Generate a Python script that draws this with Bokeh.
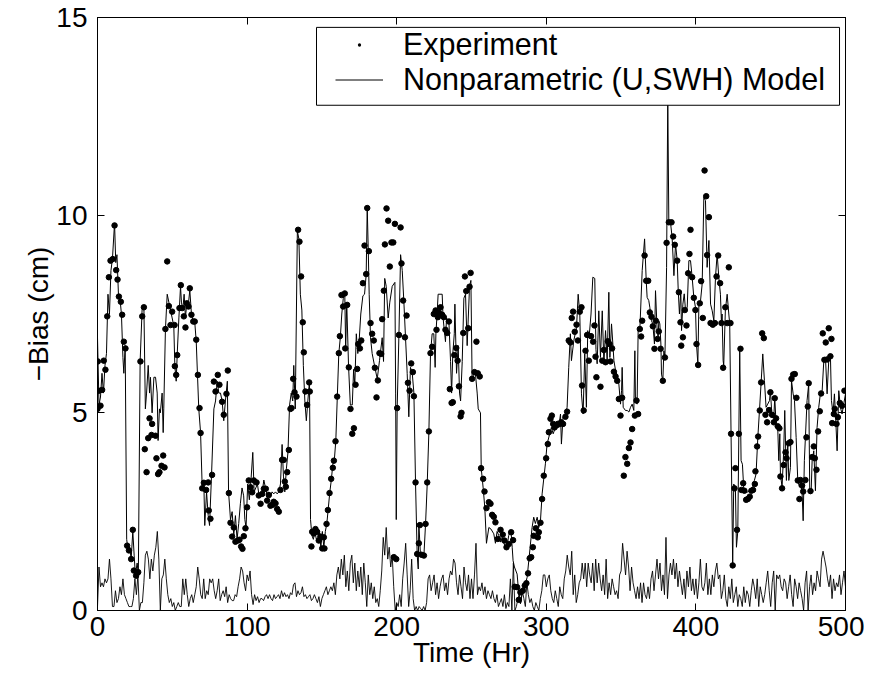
from bokeh.plotting import figure
from bokeh.models import (LinearAxis, Range1d, FixedTicker, Legend, LegendItem,
                          BoxAnnotation, CustomJSTickFormatter)
from bokeh.embed import file_html
from bokeh.resources import INLINE

FONT = "Liberation Sans"

x_ticks = [0, 100, 200, 300, 400, 500]
y_ticks = [0, 5, 10, 15]

# Experiment: (hour, -bias cm)
experiment = [
    (0.0, 5.10), (0.2, 6.30), (0.9, 5.56), (2.0, 5.18), (3.1, 5.58), (4.2, 6.32), (5.3, 6.09), (6.5, 7.44),
    (7.6, 8.43), (8.7, 8.85), (10.2, 8.89), (11.4, 9.74), (12.5, 8.61), (13.4, 8.37), (14.3, 7.94), (15.6, 7.81),
    (16.5, 7.48), (17.6, 6.80), (18.7, 6.63), (19.8, 1.64), (21.0, 1.52), (22.5, 1.30), (23.6, 2.04), (24.3, 1.01),
    (25.8, 0.88), (27.2, 0.97), (28.7, 6.30), (29.9, 7.44), (31.0, 7.67), (31.6, 4.08), (32.8, 3.50), (33.9, 4.36),
    (34.8, 4.86), (36.1, 4.44), (36.5, 4.72), (38.8, 4.42), (39.4, 3.85), (40.5, 3.45), (41.4, 3.50), (42.8, 3.66),
    (43.9, 3.92), (44.8, 3.62), (45.4, 7.12), (46.6, 8.83), (47.7, 7.70), (48.8, 7.22), (49.9, 7.56), (51.5, 7.22),
    (51.7, 6.18), (52.6, 5.96), (53.3, 6.46), (54.8, 7.65), (55.7, 8.23), (56.6, 7.65), (57.7, 7.44), (58.8, 7.16),
    (59.7, 7.77), (60.8, 7.69), (61.7, 8.15), (62.8, 7.48), (64.0, 7.31), (65.0, 7.31), (66.0, 6.85), (67.1, 5.96),
    (68.2, 5.12), (68.9, 4.49), (70.0, 3.09), (71.1, 3.23), (72.6, 3.05), (74.0, 3.24), (74.4, 2.53), (75.5, 2.32),
    (76.6, 3.43), (77.8, 5.79), (78.9, 5.54), (80.4, 5.96), (81.5, 5.71),
    (83.3, 5.28), (84.4, 4.95), (86.2, 5.48), (87.1, 6.07), (87.8, 2.97), (88.9, 2.22), (90.0, 1.87), (91.1, 2.10),
    (92.2, 1.74), (93.8, 1.77), (94.9, 1.79), (96.0, 1.62), (96.9, 1.56), (97.8, 1.88), (98.9, 2.08), (100.0, 2.61),
    (101.1, 3.29), (102.3, 3.12), (103.4, 2.99), (104.5, 3.29), (106.3, 3.24), (107.8, 2.91), (109.0, 2.70),
    (110.1, 2.95), (111.2, 3.08), (112.5, 3.08), (113.4, 2.78), (114.5, 2.92), (115.6, 2.65), (116.7, 2.67),
    (117.8, 2.75), (119.0, 2.71), (120.1, 2.57), (121.2, 2.50), (122.3, 3.05), (123.4, 3.81), (124.5, 3.81),
    (125.2, 3.26), (125.9, 3.13), (126.8, 3.50), (127.9, 4.06), (129.0, 5.10), (129.7, 5.12), (130.8, 5.86),
    (131.7, 5.52), (133.0, 5.41), (134.1, 9.63), (135.0, 9.33), (136.1, 8.45), (137.2, 7.29), (137.9, 6.53),
    (139.0, 5.54), (140.1, 5.20), (141.5, 5.77), (141.9, 5.54), (143.0, 1.62), (143.5, 1.99), (144.6, 1.95),
    (145.7, 2.06), (146.8, 1.99), (147.9, 1.77), (149.0, 1.87), (150.2, 1.57), (151.3, 1.85), (151.7, 1.57),
    (153.1, 2.19), (154.0, 2.54), (155.1, 2.97), (156.2, 3.33), (157.3, 3.61), (158.0, 3.79), (159.1, 4.28),
    (160.2, 5.41), (161.3, 6.51), (162.0, 6.94), (163.1, 7.98), (164.2, 7.69), (165.3, 8.02), (165.6, 6.63),
    (166.9, 7.73), (168.0, 6.15), (169.1, 5.10), (170.3, 4.47), (171.4, 4.61), (172.5, 5.71), (173.6, 6.11),
    (174.3, 6.74), (175.4, 6.63), (176.3, 6.83), (177.4, 8.28), (178.5, 9.23), (179.6, 8.51), (180.3, 10.18),
    (181.4, 9.09), (182.5, 7.27), (183.6, 7.00), (184.7, 6.83), (185.4, 6.14), (186.5, 5.39), (187.4, 5.82),
    (188.5, 6.51), (189.6, 6.49), (190.3, 7.37), (191.4, 8.09), (192.1, 9.26), (193.2, 10.17), (194.3, 9.86),
    (195.4, 8.70), (196.5, 9.31), (197.7, 9.31), (198.8, 9.78), (198.1, 1.35), (199.7, 1.30), (200.3, 5.12),
    (201.5, 6.97), (202.6, 9.69), (203.2, 8.78), (204.3, 7.84), (205.5, 6.91), (206.6, 7.46), (207.5, 5.76),
    (208.6, 5.56), (209.7, 6.25), (210.8, 6.03), (211.5, 5.42), (212.6, 3.24), (213.7, 1.43), (214.8, 1.70),
    (215.5, 2.16), (216.6, 1.41), (218.2, 1.39), (219.3, 2.19), (220.4, 3.24), (221.5, 4.53), (222.6, 6.51),
    (223.7, 6.67), (224.8, 7.50), (226.0, 7.59), (226.6, 7.10), (227.5, 7.42), (228.2, 7.54), (229.3, 7.67),
    (230.4, 7.48), (231.5, 7.42), (232.6, 7.10), (233.8, 7.02), (234.9, 7.31), (235.5, 5.60), (236.7, 5.25),
    (237.5, 5.27), (238.5, 6.46), (239.8, 6.64), (240.7, 6.32), (241.6, 5.67), (242.7, 4.91), (243.3, 5.00),
    (244.5, 7.02), (245.6, 8.45), (246.5, 8.08), (247.8, 7.14), (248.7, 8.19), (249.4, 8.54),
    (250.4, 5.86), (252.0, 6.03), (253.3, 6.80), (254.2, 6.00), (255.5, 5.92), (256.4, 3.60), (257.8, 3.33),
    (258.7, 3.01), (260.0, 2.59), (261.6, 2.74), (262.7, 2.70), (263.8, 2.42), (264.9, 2.37), (266.0, 2.23),
    (267.6, 1.81), (269.4, 2.04), (270.9, 1.92), (272.0, 1.77), (273.4, 1.60), (274.9, 1.68), (276.5, 1.98),
    (277.8, 1.78), (278.9, 0.60), (280.5, 0.59), (281.6, 0.27), (282.7, 0.46), (284.3, 0.50), (285.6, 0.63),
    (286.7, 0.69), (287.8, 0.94), (288.9, 1.32), (289.9, 1.35), (291.0, 1.60), (291.6, 1.89), (293.0, 2.08),
    (294.3, 1.85), (295.0, 1.98), (296.1, 2.22), (297.2, 2.82), (298.3, 3.41), (299.9, 3.85), (301.0, 4.21),
    (301.7, 4.51), (302.8, 4.85), (303.7, 4.93), (304.6, 4.72), (305.5, 4.63), (306.6, 4.68), (307.7, 4.72),
    (308.8, 4.72), (309.9, 4.76), (311.2, 4.72), (312.8, 4.90), (313.9, 5.03), (315.0, 6.83), (316.1, 6.78),
    (317.0, 7.40), (317.9, 7.56), (319.0, 7.05), (320.2, 7.23), (321.1, 6.83), (322.4, 7.56), (323.5, 7.67),
    (323.9, 5.69), (325.0, 5.06), (326.2, 6.57), (327.3, 6.97), (328.4, 6.32), (329.9, 6.94), (331.3, 6.80),
    (332.2, 7.21), (332.9, 6.42), (333.5, 5.90),
    (336.2, 5.66), (337.4, 6.32), (338.5, 6.59), (339.6, 6.28), (341.1, 6.81), (342.3, 6.74), (342.9, 6.30),
    (344.0, 6.63), (345.2, 6.04), (346.3, 5.92), (347.4, 5.81), (348.5, 5.35), (349.6, 4.93), (350.7, 5.38),
    (351.8, 3.41), (352.9, 3.88), (354.1, 3.71), (355.2, 4.11), (356.3, 4.25), (357.4, 4.59), (359.2, 4.93),
    (360.3, 5.31), (361.4, 4.97), (362.5, 7.12), (363.4, 6.93), (364.1, 7.33), (365.7, 8.98), (366.8, 8.34),
    (368.1, 8.34), (369.2, 7.54), (370.3, 7.43), (371.2, 7.19), (372.3, 6.62), (373.2, 7.33), (374.4, 6.87),
    (375.2, 7.06), (376.4, 6.62), (377.9, 5.81), (379.3, 6.40), (380.4, 9.30), (381.9, 9.82), (383.7, 9.82),
    (384.8, 9.46), (385.9, 9.25), (387.5, 8.85), (388.6, 8.05), (389.7, 7.29), (390.2, 6.70), (391.3, 6.91),
    (392.6, 7.60), (393.7, 7.21), (394.8, 8.53), (395.7, 9.02), (396.4, 9.63), (397.5, 8.43), (398.6, 7.91),
    (399.7, 7.60), (400.4, 6.74), (401.5, 6.21), (402.6, 7.77), (403.5, 8.33), (404.6, 7.40), (405.8, 11.13),
    (406.9, 10.48), (407.5, 8.99), (408.7, 9.95), (409.8, 7.27), (411.3, 7.23), (412.7, 7.27), (413.8, 8.45),
    (414.9, 8.98), (416.2, 8.28), (417.1, 7.27), (418.2, 6.14),
    (419.7, 7.67), (420.9, 7.27), (422.0, 8.68), (423.1, 7.27), (423.5, 4.47), (424.6, 1.14), (425.8, 3.09),
    (426.4, 3.60), (427.5, 2.04), (428.7, 4.47), (429.8, 6.62), (430.4, 3.05), (431.6, 3.22), (432.4, 3.03),
    (433.6, 2.80), (434.7, 2.82), (436.0, 2.88), (437.1, 3.03), (438.2, 3.05), (439.4, 3.20), (439.8, 3.52),
    (440.9, 4.15), (441.6, 4.40), (442.7, 5.06), (443.6, 5.77), (444.3, 7.01), (445.4, 6.89), (446.5, 4.95),
    (447.6, 4.76), (448.9, 5.07), (449.8, 5.52), (450.9, 4.95), (452.1, 4.76), (452.7, 5.37), (453.6, 4.86),
    (454.7, 4.66), (455.8, 4.61), (456.5, 3.39), (457.6, 3.09), (458.7, 3.68), (459.9, 4.00), (460.6, 3.85),
    (462.1, 4.23), (463.2, 4.26), (463.9, 5.86), (465.0, 5.97), (466.1, 5.98), (467.2, 5.38), (468.1, 3.29),
    (469.2, 2.82), (469.9, 3.30), (471.0, 3.16), (471.7, 3.01), (473.2, 3.30), (473.9, 4.38), (474.8, 5.16),
    (475.4, 5.75), (476.6, 3.02), (477.7, 3.88), (478.8, 4.15), (479.5, 3.85), (480.6, 3.56), (481.7, 4.53),
    (482.8, 5.04), (483.7, 5.49), (484.8, 7.01), (485.9, 6.34), (486.8, 6.78), (487.7, 6.35), (488.8, 7.14),
    (489.9, 6.43), (490.6, 6.87), (491.1, 4.74), (492.2, 4.97), (492.8, 5.10), (494.0, 4.72), (494.9, 4.89),
    (496.2, 5.25), (497.7, 5.18), (499.3, 5.56),
]

# Nonparametric (U,SWH) model: (hour, -bias cm)
model = [
    (0.0, 6.9), (1.0, 5.2), (2.0, 5.4), (3.0, 6.0), (4.0, 5.5), (5.0, 6.2), (6.0, 6.5), (7.0, 8.0), (8.0, 7.5),
    (9.0, 8.6), (10.0, 8.9), (11.4, 9.8), (12.2, 8.8), (13.0, 9.0), (14.0, 8.0), (15.0, 7.9), (16.0, 7.5),
    (17.0, 6.4), (17.6, 6.0), (18.5, 6.7), (19.5, 1.8), (20.5, 1.5), (21.5, 1.6), (22.5, 1.3), (23.6, 2.0),
    (24.5, 1.4), (25.3, 0.9), (26.5, 1.2), (27.3, 0.9), (28.5, 6.3), (29.8, 7.6), (31.0, 7.7), (32.0, 5.1),
    (32.8, 5.5), (33.9, 6.2), (34.8, 5.5), (35.4, 5.9), (36.5, 5.0), (37.7, 5.9), (38.8, 5.9), (39.9, 5.5),
    (40.5, 4.3), (41.4, 5.1), (42.0, 5.0), (43.2, 5.5), (43.9, 4.5), (44.3, 5.1), (45.4, 7.1), (46.6, 8.0),
    (47.7, 7.8), (48.8, 7.6), (49.9, 7.4), (51.0, 7.2), (51.7, 6.2), (52.6, 5.8), (53.3, 6.5), (54.4, 7.4),
    (55.5, 8.2), (56.1, 7.8), (57.0, 7.6), (57.9, 8.0), (58.8, 7.4), (59.7, 7.8), (60.6, 7.7), (61.7, 8.1),
    (62.8, 7.5), (64.0, 7.3), (65.0, 7.3), (66.0, 6.8), (66.8, 6.0), (67.7, 5.1), (68.9, 4.5), (70.0, 3.1),
    (71.1, 3.2), (71.7, 2.15), (72.9, 3.0), (74.0, 2.4), (74.9, 2.15), (76.2, 3.4), (77.8, 5.1), (78.9, 5.3),
    (80.0, 5.8), (81.1, 5.5), (82.2, 5.5), (83.3, 5.3), (84.4, 4.8), (85.5, 5.3), (86.8, 5.8), (87.6, 3.0),
    (88.9, 2.3), (90.0, 2.5), (91.1, 1.9), (92.2, 2.4), (93.3, 1.8), (94.4, 2.2), (95.5, 2.7), (96.6, 3.1),
    (97.7, 2.9), (98.5, 2.3), (99.3, 2.1), (100.4, 3.2), (101.5, 2.8), (102.6, 3.3), (103.8, 4.0), (104.7, 3.0),
    (105.8, 3.1), (106.9, 3.2), (108.0, 2.9), (109.0, 2.9), (110.1, 3.0), (111.2, 3.3), (112.3, 3.1),
    (113.4, 2.9), (114.5, 3.0), (115.6, 2.9), (116.7, 3.0), (117.8, 2.95), (119.0, 3.0), (120.1, 2.95),
    (121.2, 3.0), (122.3, 3.2), (123.4, 4.2), (124.3, 3.4), (125.2, 3.0), (126.3, 3.6), (127.3, 4.0),
    (128.4, 5.2), (129.5, 5.5), (130.5, 5.3), (131.2, 6.2), (132.2, 5.1), (133.6, 9.6), (134.6, 9.4),
    (135.6, 8.0), (136.6, 7.6), (137.6, 6.2), (138.6, 5.3), (139.6, 4.8), (140.6, 5.3), (141.7, 5.8),
    (142.4, 2.3), (143.3, 1.9), (144.3, 1.8), (145.3, 2.0), (146.3, 1.8), (147.3, 1.8), (148.3, 2.0),
    (149.3, 1.6), (150.3, 2.0), (151.3, 1.6), (152.3, 2.0), (153.3, 2.2), (154.3, 2.6), (155.3, 3.0),
    (156.3, 3.3), (157.3, 3.7), (158.3, 3.8), (159.3, 4.3), (160.3, 5.4), (161.3, 6.5), (162.3, 6.9),
    (163.3, 7.5), (164.3, 7.9), (165.3, 8.0), (165.9, 6.6), (166.6, 7.8), (167.8, 6.2), (169.0, 5.2),
    (170.3, 5.2), (171.2, 6.1), (172.0, 5.7), (173.0, 7.0), (174.0, 6.5), (174.7, 6.7), (176.0, 7.5),
    (177.4, 7.96), (178.5, 8.0), (179.6, 8.5), (180.3, 10.2), (181.0, 9.1), (181.6, 8.0), (182.5, 6.9),
    (183.6, 6.5), (185.4, 6.15), (187.0, 5.86), (188.5, 6.32), (190.3, 6.9), (191.2, 6.3), (192.0, 8.4),
    (193.0, 8.2), (194.3, 7.4), (195.4, 7.8), (197.0, 8.2), (198.8, 8.3), (199.3, 5.5), (199.7, 2.3),
    (200.3, 5.1), (201.5, 7.0), (202.6, 9.0), (203.7, 8.6), (204.8, 7.8), (205.9, 6.9), (207.0, 6.0),
    (208.1, 4.9), (209.2, 6.15), (210.4, 6.0), (211.5, 5.5), (212.6, 3.2), (213.7, 1.4), (214.4, 1.05),
    (214.8, 2.2), (215.9, 1.4), (218.2, 1.4), (219.3, 2.2), (220.4, 3.2), (221.5, 4.5), (222.6, 6.5),
    (223.7, 7.0), (224.8, 7.0), (225.7, 6.15), (226.2, 7.0), (227.0, 7.5), (227.7, 8.0), (230.4, 8.0),
    (231.0, 7.4), (232.6, 6.8), (233.3, 7.4), (234.9, 7.3), (236.0, 6.3), (236.7, 5.5), (237.5, 6.5),
    (238.5, 7.0), (238.9, 7.75), (240.0, 6.0), (241.1, 6.7), (242.0, 5.5), (242.7, 5.3), (243.8, 6.3),
    (244.9, 7.9), (246.0, 8.0), (247.1, 6.7), (248.7, 8.2), (249.6, 8.35), (250.4, 5.86), (251.5, 5.95),
    (252.6, 6.0), (253.8, 5.5), (254.5, 5.1), (256.0, 5.0), (256.5, 3.6), (257.8, 3.1), (258.9, 2.6),
    (260.0, 1.7), (261.6, 2.1), (263.0, 2.06), (264.9, 1.94), (266.0, 1.7), (267.1, 2.0), (268.2, 1.9),
    (269.4, 1.73), (270.5, 1.85), (271.6, 1.7), (273.4, 1.56), (274.9, 1.9), (275.6, 2.0), (276.5, 1.95),
    (277.2, 1.6), (277.8, 1.26), (278.7, 1.1), (280.5, 0.92), (281.6, 0.42), (282.7, 0.17), (283.8, 0.42),
    (285.0, 0.5), (286.0, 0.67), (287.2, 0.84), (288.3, 1.26), (289.4, 1.68), (290.5, 2.1), (291.6, 2.36),
    (292.7, 2.2), (293.9, 2.36), (295.0, 2.1), (296.1, 2.27), (297.2, 2.95), (298.3, 3.33), (299.4, 3.71),
    (300.5, 4.21), (302.3, 4.47), (303.4, 4.63), (304.6, 4.47), (306.1, 4.63), (307.2, 4.72), (308.3, 4.63),
    (309.5, 4.97), (310.1, 4.21), (311.2, 4.89), (312.8, 4.97), (313.9, 5.14), (315.0, 6.15), (316.1, 7.0),
    (316.8, 6.32), (318.4, 6.83), (320.2, 7.16), (321.3, 8.0), (322.4, 7.5), (323.5, 5.48), (324.6, 4.97),
    (325.7, 6.49), (326.8, 5.14), (327.7, 7.08), (328.6, 6.91), (329.9, 7.5), (331.1, 8.43), (332.4, 8.4),
    (333.2, 6.6), (334.0, 6.24), (335.1, 7.58), (336.2, 6.4), (337.4, 7.58), (338.5, 6.24), (339.6, 7.08),
    (340.7, 6.32), (341.8, 8.05), (342.5, 6.4), (343.6, 7.25), (344.5, 6.74), (345.2, 6.32), (346.3, 6.07),
    (347.4, 5.94), (348.5, 5.73), (349.6, 5.22), (350.3, 5.56), (350.7, 6.15), (351.4, 5.14), (352.9, 5.06),
    (354.1, 5.06), (355.2, 5.02), (356.3, 5.14), (357.4, 5.22), (358.5, 5.06), (359.2, 6.57), (359.6, 5.31),
    (360.7, 5.22), (361.4, 7.08), (362.5, 7.08), (364.1, 8.6), (365.7, 9.4), (366.8, 8.34), (367.4, 7.92),
    (368.5, 7.84), (369.2, 7.67), (370.3, 7.33), (371.2, 7.25), (372.3, 6.74), (373.0, 8.09), (374.1, 7.08),
    (374.8, 6.91), (375.2, 7.33), (375.9, 7.25), (376.6, 6.74), (377.0, 5.98), (377.9, 5.81), (378.6, 6.57),
    (379.3, 6.4), (380.4, 8.68), (381.2, 13.0), (381.9, 9.82), (383.0, 9.82), (384.1, 9.44), (385.3, 8.47),
    (386.4, 9.27), (387.5, 8.85), (388.2, 8.09), (389.0, 7.5), (389.9, 8.09), (390.4, 7.08), (391.3, 7.75),
    (392.2, 8.01), (393.1, 7.58), (394.2, 7.67), (395.3, 8.85), (396.4, 8.85), (397.5, 8.43), (398.6, 7.92),
    (399.7, 7.67), (400.4, 6.74), (401.3, 6.24), (402.0, 7.75), (403.1, 7.84), (404.2, 8.26), (405.3, 10.45),
    (406.4, 10.37), (407.5, 8.68), (408.7, 9.36), (409.8, 7.75), (410.9, 7.58), (412.0, 7.33), (413.1, 8.43),
    (414.2, 9.02), (415.3, 8.43), (416.4, 8.0), (417.1, 7.25), (417.5, 7.5), (418.2, 6.32), (418.6, 6.2),
    (419.7, 7.6), (420.9, 8.0), (422.0, 7.5), (422.6, 7.25), (423.5, 4.47), (424.6, 1.14), (425.3, 3.2),
    (426.4, 3.1), (427.1, 1.6), (428.0, 2.0), (428.7, 4.47), (429.3, 6.57), (430.2, 3.79), (431.1, 3.7),
    (432.0, 3.07), (433.1, 3.03), (434.2, 2.99), (435.8, 3.03), (436.9, 3.07), (438.0, 3.12), (439.1, 3.29),
    (440.2, 3.45), (441.4, 4.38), (442.5, 5.06), (443.6, 5.77), (444.7, 6.49), (445.8, 5.82), (446.9, 5.14),
    (448.0, 5.22), (449.2, 5.31), (449.8, 5.56), (450.9, 4.89), (452.1, 4.89), (452.7, 5.39), (453.6, 4.72),
    (454.7, 4.63), (455.4, 3.79), (456.1, 4.47), (456.5, 3.45), (457.6, 3.12), (458.7, 4.04), (459.4, 5.06),
    (460.5, 3.29), (461.4, 4.21), (462.1, 3.29), (463.2, 3.62), (463.9, 5.82), (465.0, 5.48), (465.9, 5.31),
    (467.0, 4.38), (468.1, 3.29), (469.2, 3.12), (469.9, 3.33), (471.0, 2.95), (471.7, 2.27), (472.5, 3.79),
    (473.2, 4.38), (474.3, 5.31), (475.4, 5.73), (476.1, 3.03), (477.0, 2.95), (477.7, 3.79), (478.8, 4.04),
    (479.9, 3.03), (481.0, 4.63), (482.1, 5.14), (483.2, 5.48), (484.4, 5.56), (485.5, 6.32), (486.6, 6.41),
    (487.7, 5.48), (488.8, 6.32), (489.9, 6.49), (490.6, 5.31), (491.7, 4.97), (492.6, 5.48), (493.3, 4.97),
    (494.4, 4.04), (495.5, 5.56), (496.6, 5.14), (497.7, 4.97), (498.8, 5.22), (500.0, 5.48),
]

# Lower trace: hourly values from hour 0 to hour 500
lower_trace = [
    0.1, 1.1, 0.6, 0.7, 0.6, 0.8, 0.7, 0.8, 1.3, 0.8,
    0.1, 0.1, 0.5, 0.2, 0.3, 0.6, 0.4, 0.8, 0.4, 0.3,
    0.2, 0.1, 0.1, 0.1, 0.3, 0.8, 0.4, 0.9, 0.0, 0.2,
    0.2, 0.7, 1.4, 1.5, 1.3, 0.8, 1.3, 1.0, 1.4, 1.6,
    2.0, 1.3, 0.0, 0.8, 0.9, 1.3, 0.8, 0.4, 0.2, 0.3,
    0.1, 0.2, 0.0, 0.1, 0.2, 0.1, 0.1, 0.8, 0.4, 0.8,
    0.4, 0.1, 0.3, 0.4, 0.2, 0.4, 0.6, 1.1, 0.8, 0.4,
    0.3, 0.8, 0.3, 0.5, 0.4, 0.8, 0.7, 0.8, 0.5, 0.3,
    0.5, 0.8, 0.25, 0.4, 0.5, 0.35, 0.6, 0.2, 0.4, 0.3,
    0.25, 0.25, 0.4, 0.35, 0.6, 0.8, 1.1, 1.0, 0.7, 0.5,
    0.9, 0.75, 1.0, 0.4, 0.15, 0.4, 0.25, 0.35, 0.2, 0.3,
    0.3, 0.25, 0.35, 0.4, 0.3, 0.4, 0.3, 0.25, 0.4, 0.3,
    0.35, 0.4, 0.3, 0.5, 0.35, 0.45, 0.35, 0.4, 0.3, 0.45,
    0.4, 0.65, 0.7, 0.35, 0.5, 0.4, 0.45, 0.6, 0.35, 0.4,
    0.3, 0.35, 0.4, 0.25, 0.3, 0.4, 0.3, 0.2, 0.35, 0.1,
    0.3, 0.4, 0.5, 0.6, 0.4, 0.5, 0.6, 0.5, 0.7, 0.4,
    0.9, 1.1, 0.8, 1.3, 0.9, 1.4, 0.6, 1.0, 0.5, 1.2,
    1.4, 0.7, 1.2, 0.5, 1.0, 0.6, 1.1, 0.4, 1.2, 0.7,
    0.1, 0.9, 0.4, 0.7, 0.3, 0.6, 0.2, 0.3, 0.1, 0.5,
    1.0, 1.85, 1.4, 2.1, 1.3, 1.6, 1.1, 1.4, 0.6, 0.0,
    0.2, 0.1, 0.4, 0.1, 0.8, 1.2, 1.7, 0.9, 0.1, 0.5,
    1.3, 0.3, 0.0, 0.1, 0.0, 0.1, 0.05, 0.0, 0.1, 0.0,
    0.2, 0.8, 0.9, 0.5, 0.7, 0.9, 0.4, 0.7, 0.3, 0.6,
    0.8, 0.9, 0.5, 0.7, 0.4, 0.8, 1.0, 0.9, 1.3, 1.2,
    0.7, 0.4, 0.9, 0.6, 0.3, 1.1, 0.7, 0.5, 0.9, 0.3,
    0.8, 0.3, 0.9, 1.7, 0.4, 0.6, 0.5, 0.7, 0.4, 0.6,
    0.3, 0.5, 0.4, 0.3, 0.5, 0.3, 0.2, 0.4, 0.1, 0.2,
    0.3, 0.1, 0.4, 0.05, 0.2, 0.1, 0.8, 0.0, 1.2, 0.0,
    0.1, 0.3, 0.4, 0.2, 0.5, 0.3, 0.1, 0.7, 0.4, 0.2,
    0.3, 0.1, 0.0, 0.2, 0.1, 0.0, 0.3, 0.5, 0.9, 0.9,
    0.6, 0.8, 0.9, 0.5, 0.3, 0.2, 0.5, 0.3, 0.1, 0.6,
    0.4, 0.3, 0.8, 1.0, 1.4, 1.1, 0.9, 1.5, 0.4, 0.9,
    0.2, 0.4, 0.7, 0.8, 1.2, 0.8, 1.2, 0.6, 1.2, 0.9,
    0.7, 1.2, 0.5, 1.3, 0.7, 1.2, 0.8, 0.5, 0.9, 0.4,
    1.3, 0.3, 0.7, 0.4, 0.8, 0.6, 0.4, 0.5, 0.3, 0.9,
    1.0, 1.7, 1.3, 0.9, 1.5, 1.1, 0.5, 1.1, 0.7, 0.5,
    0.3, 0.6, 0.3, 0.7, 0.2, 0.7, 0.4, 0.3, 0.6, 0.3,
    0.8, 1.0, 0.5, 0.9, 1.3, 0.8, 1.2, 0.5, 0.9, 0.4,
    1.85, 0.3, 0.9, 1.2, 0.9, 1.3, 0.8, 1.2, 0.6, 1.0,
    0.7, 0.4, 0.8, 0.3, 1.0, 0.6, 1.1, 0.5, 0.8, 0.4,
    0.8, 0.3, 0.7, 1.3, 0.6, 0.5, 0.7, 1.2, 0.4, 0.8,
    0.4, 0.9, 0.6, 1.0, 1.2, 0.8, 0.9, 0.3, 0.5, 0.9,
    0.3, 0.1, 0.6, 0.3, 0.8, 0.2, 0.4, 0.6, 0.1, 0.4,
    0.3, 0.1, 0.6, 0.2, 0.5, 0.4, 0.1, 0.5, 0.8, 0.6,
    0.3, 0.8, 0.1, 0.6, 0.4, 0.2, 0.4, 0.7, 1.0, 0.5,
    0.1, 0.7, 1.0, 0.0, 0.9, 0.8, 0.9, 0.6, 0.5, 0.8,
    0.7, 0.3, 0.6, 0.9, 0.4, 0.1, 0.8, 0.6, 0.3, 0.7,
    0.5, 0.3, 0.0, 0.7, 1.0, 0.0, 0.6, 0.9, 0.4, 0.7,
    0.5, 1.0, 0.8, 0.6, 1.3, 1.5, 1.3, 1.1, 0.8, 0.6,
    0.9, 0.3, 0.8, 0.5, 0.7, 0.6, 0.9, 0.4, 0.7, 1.0, 0.6,
]
lower_hours = list(range(len(lower_trace)))

exp_hr = [h for h, v in experiment]
exp_val = [v for h, v in experiment]
mod_hr = [h for h, v in model]
mod_val = [v for h, v in model]

p = figure(width=864, height=676, output_backend="svg", toolbar_location=None,
           x_range=Range1d(0, 500), y_range=Range1d(0, 15),
           min_border_left=97, min_border_right=19, min_border_top=17, min_border_bottom=66,
           x_axis_label="Time (Hr)", y_axis_label="\u2212Bias (cm)")
p.grid.visible = False
p.outline_line_color = "black"
p.outline_line_width = 1
p.background_fill_color = "white"
p.border_fill_color = "white"

def style_axis(ax, ticks, show_labels):
    ax.ticker = FixedTicker(ticks=ticks)
    ax.major_tick_in = 7
    ax.major_tick_out = 0
    ax.minor_tick_in = 0
    ax.minor_tick_out = 0
    ax.axis_line_color = "black"
    ax.major_tick_line_color = "black"
    if show_labels:
        ax.major_label_text_font = FONT
        ax.major_label_text_font_size = "28px"
        ax.major_label_text_color = "black"
        ax.axis_label_text_font = FONT
        ax.axis_label_text_font_size = "28px"
        ax.axis_label_text_font_style = "normal"
        ax.axis_label_text_color = "black"
    else:
        ax.formatter = CustomJSTickFormatter(code="return ''")
        ax.major_label_text_font_size = "0px"
        ax.major_label_standoff = 0

style_axis(p.xaxis[0], x_ticks, True)
style_axis(p.yaxis[0], y_ticks, True)
p.xaxis[0].major_label_standoff = 6
p.xaxis[0].axis_label_standoff = -2
p.yaxis[0].major_label_standoff = 10
p.yaxis[0].axis_label_standoff = -1

top_ax = LinearAxis()
style_axis(top_ax, x_ticks, False)
p.add_layout(top_ax, "above")
right_ax = LinearAxis()
style_axis(right_ax, y_ticks, False)
p.add_layout(right_ax, "right")

lower_r = p.line(lower_hours, lower_trace, line_color="black", line_width=0.9)
model_r = p.line(mod_hr, mod_val, line_color="black", line_width=1)
exp_r = p.scatter(exp_hr, exp_val, size=5.5, color="black")
# small "dot" copy of the first experiment point, used only as the legend key
exp_key = p.scatter(exp_hr[:1], exp_val[:1], marker="dot", size=16,
                    line_color="black", fill_color="black", line_width=1.5)

legend_box = BoxAnnotation(left=146.4, right=496.0, bottom=12.78, top=14.75,
                           fill_color="white", fill_alpha=1.0,
                           line_color="black", line_width=1, line_alpha=1.0)
p.add_layout(legend_box)

legend = Legend(items=[LegendItem(label="Experiment", renderers=[exp_key]),
                       LegendItem(label="Nonparametric (U,SWH) Model", renderers=[model_r])],
                location=(238, 513), padding=0, spacing=0, margin=0,
                glyph_width=48, glyph_height=33, label_height=33, label_standoff=20,
                label_text_font=FONT, label_text_font_size="30.5px", label_text_color="black",
                border_line_alpha=0, background_fill_alpha=0)
p.add_layout(legend, "center")

open("out.html", "w").write(file_html(p, INLINE))
